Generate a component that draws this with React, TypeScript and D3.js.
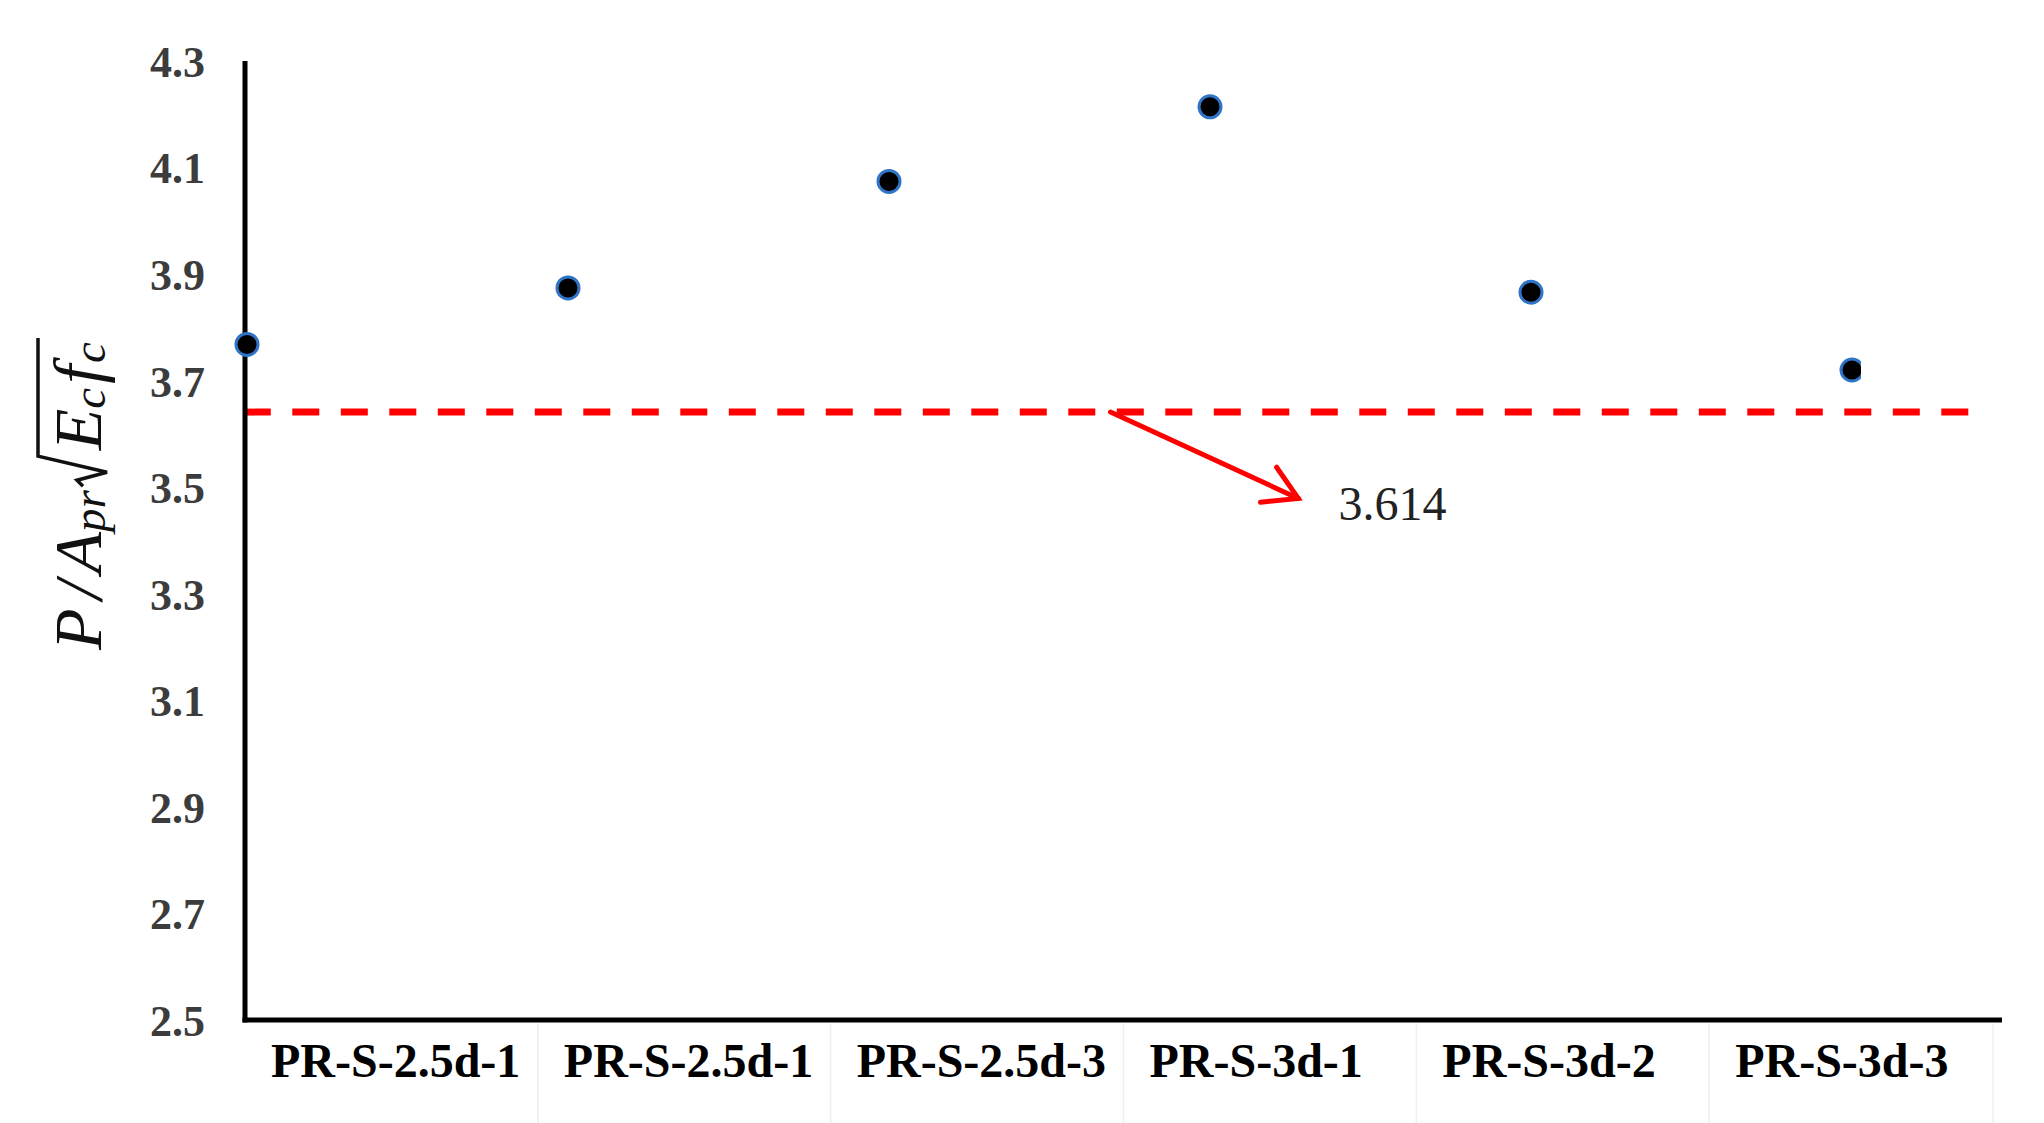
import React, { useLayoutEffect, useRef, useState } from 'react';
import * as d3 from 'd3';

// ---- data ----
const categories = ['PR-S-2.5d-1', 'PR-S-2.5d-1', 'PR-S-2.5d-3', 'PR-S-3d-1', 'PR-S-3d-2', 'PR-S-3d-3'];
const values = [3.768, 3.874, 4.074, 4.214, 3.866, 3.72];
const yTicks = [2.5, 2.7, 2.9, 3.1, 3.3, 3.5, 3.7, 3.9, 4.1, 4.3];
const yDomain = [2.5, 4.3];
const refLineValue = 3.641; // where the dashed line is drawn
const refLineExtent = [-0.01, 5.38]; // in point-index units
const refLabel = '3.614';
const arrowFrom = { i: 2.69, v: 3.641 };
const arrowTo = { i: 3.275, v: 3.479 };
const refLabelPos = { i: 3.4, v: 3.438 };

const W = 2044;
const H = 1123;
const FONT = '"Liberation Serif", "Times New Roman", serif';

function YLabel({ x, y }: { x: number; y: number }) {
  const ref = useRef<SVGTextElement>(null);
  const [pos, setPos] = useState<{ r: number; e: number; end: number } | null>(null);
  useLayoutEffect(() => {
    const t = ref.current;
    if (!t) return;
    const n = t.getNumberOfChars();
    const r = t.getEndPositionOfChar(4).x;
    const e = t.getStartPositionOfChar(5).x;
    const end = t.getEndPositionOfChar(n - 1).x;
    setPos({ r, e, end });
  }, []);
  const fs = 68;
  const sub = 47;
  return (
    <g transform={`translate(${x},${y}) rotate(-90)`}>
      <text ref={ref} x={0} y={0} fontFamily={FONT} fontStyle="italic" fontSize={fs} fill="#111">
        <tspan>P</tspan>
        <tspan dx={9}>/</tspan>
        <tspan dx={7}>A</tspan>
        <tspan fontSize={sub} dy={4}>pr</tspan>
        <tspan dy={-4} dx={40}>E</tspan>
        <tspan fontSize={sub} dy={4}>c</tspan>
        <tspan dy={-4} dx={4}>f</tspan>
        <tspan fontSize={sub} dy={4} dx={2}>c</tspan>
      </text>
      {pos && (
        <path
          d={`M${pos.r + 4},-18 L${pos.r + 10},-24 L${pos.r + 18},6 L${pos.e - 6},-63 L${pos.end + 4},-63`}
          fill="none"
          stroke="#111"
          strokeWidth={3.5}
          strokeLinejoin="miter"
        />
      )}
    </g>
  );
}

export default function App() {
  const axisLeft = 245;
  const axisRight = 2002;
  const yTop = 61;
  const yBottom = 1020;

  const y = d3.scaleLinear().domain(yDomain).range([yBottom, yTop]);
  const xBand = d3
    .scaleBand<number>()
    .domain(d3.range(categories.length))
    .range([axisLeft, axisRight])
    .padding(0);
  const xDot = d3.scaleLinear().domain([0, categories.length - 1]).range([247, 1852]);

  // arrow geometry
  const ax1 = xDot(arrowFrom.i);
  const ay1 = y(arrowFrom.v);
  const ax2 = xDot(arrowTo.i);
  const ay2 = y(arrowTo.v);
  const ang = Math.atan2(ay1 - ay2, ax1 - ax2);
  const headLen = 38;
  const spread = (30.5 * Math.PI) / 180;
  const b1 = [ax2 + headLen * Math.cos(ang + spread), ay2 + headLen * Math.sin(ang + spread)];
  const b2 = [ax2 + headLen * Math.cos(ang - spread), ay2 + headLen * Math.sin(ang - spread)];

  const lastIdx = categories.length - 1;

  return (
    <svg
      width={W}
      height={H}
      style={{ position: 'absolute', left: 0, top: 0, background: '#fff' }}
      fontFamily={FONT}
    >
      <defs>
        <clipPath id="dotclip">
          <rect x={0} y={0} width={xDot(lastIdx) + 9} height={H} />
        </clipPath>
      </defs>
      <rect x={0} y={0} width={W} height={H} fill="#fff" />

      {/* faint category separators below axis */}
      {d3.range(1, categories.length + 1).map((i) => {
        const bx = (xBand(i - 1) as number) + xBand.bandwidth() - (i === categories.length ? 9 : 0);
        return (
          <line key={`sep${i}`} x1={bx} x2={bx} y1={yBottom + 4} y2={H} stroke="#efefef" strokeWidth={1.5} />
        );
      })}

      {/* y tick labels */}
      {yTicks.map((t) => (
        <text
          key={`yt${t}`}
          x={205}
          y={y(t)}
          dy="0.36em"
          textAnchor="end"
          fontSize={44}
          fontWeight="bold"
          fill="#3c3c3c"
        >
          {t.toFixed(1)}
        </text>
      ))}

      {/* x category labels */}
      {categories.map((c, i) => (
        <text
          key={`xl${i}`}
          x={(xBand(i) as number) + 26}
          y={1077}
          textAnchor="start"
          fontSize={48}
          fontWeight="bold"
          fill="#000"
        >
          {c}
        </text>
      ))}

      {/* reference dashed line */}
      <line
        x1={xDot(refLineExtent[0])}
        x2={xDot(refLineExtent[1])}
        y1={y(refLineValue)}
        y2={y(refLineValue)}
        stroke="#ff0000"
        strokeWidth={7}
        strokeDasharray="27 21.5"
      />

      {/* axes */}
      <line x1={axisLeft} x2={axisLeft} y1={yTop} y2={yBottom + 2.5} stroke="#000" strokeWidth={5} />
      <line x1={axisLeft - 2.5} x2={axisRight} y1={yBottom} y2={yBottom} stroke="#000" strokeWidth={5} />

      {/* points */}
      <g clipPath="url(#dotclip)">
        {values.map((v, i) => (
          <circle key={`pt${i}`} cx={xDot(i)} cy={y(v)} r={11} fill="#000" stroke="#2f74c6" strokeWidth={3} />
        ))}
      </g>

      {/* arrow annotation */}
      <line x1={ax1} y1={ay1} x2={ax2} y2={ay2} stroke="#ff0000" strokeWidth={5} strokeLinecap="round" />
      <polyline
        points={`${b1[0]},${b1[1]} ${ax2},${ay2} ${b2[0]},${b2[1]}`}
        fill="none"
        stroke="#ff0000"
        strokeWidth={5}
        strokeLinecap="round"
        strokeLinejoin="miter"
      />
      <text x={xDot(refLabelPos.i)} y={y(refLabelPos.v)} fontSize={48} fill="#222">
        {refLabel}
      </text>

      {/* y axis title */}
      <YLabel x={101} y={650} />
    </svg>
  );
}
